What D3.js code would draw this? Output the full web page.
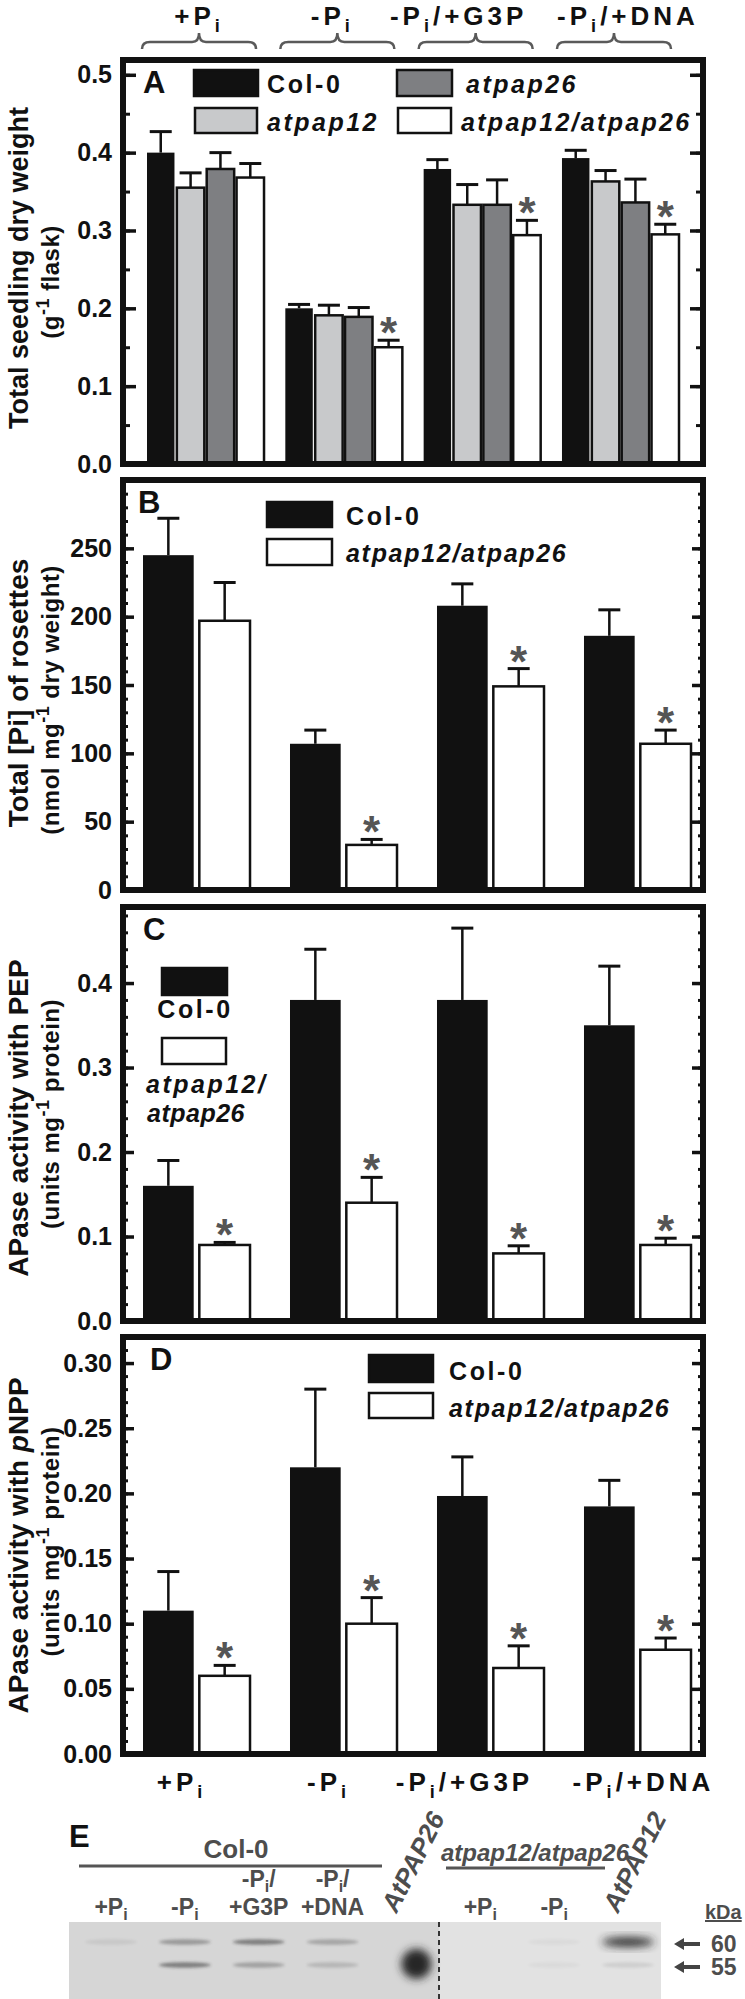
<!DOCTYPE html>
<html>
<head>
<meta charset="utf-8">
<script src="https://cdn.jsdelivr.net/npm/d3@7"></script>
<style>
  body { margin: 0; background: #fff; }
  svg { display: block; }
</style>
</head>
<body>
<svg id="chart" width="745" height="1999"></svg>
<script>
// ---- data ----
const groups = ["+Pi", "-Pi", "-Pi/+G3P", "-Pi/+DNA"];
const genotypesA = ["Col-0", "atpap12", "atpap26", "atpap12/atpap26"];
const genotypesBD = ["Col-0", "atpap12/atpap26"];

// A: total seedling dry weight (g / flask)
const dwCol0 = [0.400, 0.200, 0.379, 0.393];
const dwCol0Err = [0.027, 0.005, 0.012, 0.010];
const dwPap12 = [0.355, 0.191, 0.333, 0.363];
const dwPap12Err = [0.019, 0.013, 0.026, 0.014];
const dwPap26 = [0.379, 0.189, 0.333, 0.336];
const dwPap26Err = [0.021, 0.012, 0.032, 0.030];
const dwDouble = [0.368, 0.150, 0.294, 0.295];
const dwDoubleErr = [0.018, 0.009, 0.019, 0.013];
const dwDoubleSig = [false, true, true, true];

// B: total Pi of rosettes (nmol / mg dry weight)
const piCol0 = [245, 107, 208, 186];
const piCol0Err = [27, 10, 16, 19];
const piDouble = [197, 33, 149, 107];
const piDoubleErr = [28, 4, 13, 10];
const piDoubleSig = [false, true, true, true];

// C: APase activity with PEP (units / mg protein)
const pepCol0 = [0.16, 0.38, 0.38, 0.35];
const pepCol0Err = [0.03, 0.06, 0.085, 0.07];
const pepDouble = [0.09, 0.14, 0.08, 0.09];
const pepDoubleErr = [0.003, 0.03, 0.009, 0.008];
const pepDoubleSig = [true, true, true, true];

// D: APase activity with pNPP (units / mg protein)
const pnppCol0 = [0.11, 0.22, 0.198, 0.19];
const pnppCol0Err = [0.03, 0.06, 0.03, 0.02];
const pnppDouble = [0.06, 0.10, 0.066, 0.08];
const pnppDoubleErr = [0.008, 0.02, 0.017, 0.009];
const pnppDoubleSig = [true, true, true, true];

// tick values
const ticksA = [0, 0.1, 0.2, 0.3, 0.4, 0.5];
const ticksB = [0, 50, 100, 150, 200, 250];
const ticksC = [0, 0.1, 0.2, 0.3, 0.4];
const ticksD = [0, 0.05, 0.10, 0.15, 0.20, 0.25, 0.30];

// E: immunoblot lanes and band strengths (0..1) at the two marker sizes
const lanes = ["+Pi", "-Pi", "-Pi/+G3P", "-Pi/+DNA", "AtPAP26", "+Pi", "-Pi", "AtPAP12"];
const laneStandard = [false, false, false, false, true, false, false, true];
const band60 = [0.08, 0.35, 0.5, 0.28, 0, 0, 0.04, 0.95];
const band55 = [0, 0.5, 0.3, 0.18, 1, 0, 0.04, 0.1];
const markers = [60, 55];

// ---- drawing ----
const SANS = "'Liberation Sans', Arial, Helvetica, sans-serif";
const INK = "#111";
const GREY_TXT = "#4d4d4d";
const fills = { "Col-0": INK, "atpap12": "#c8c9cb", "atpap26": "#7e7f82", "atpap12/atpap26": "#fff" };

// condition labels sit a little off the group centres in the original
const topLabelShift = [0, -5, -17, 14];
const bottomLabelShift = [-15, -15, -26, 6];

const svg = d3.select("#chart").attr("font-family", SANS);
svg.append("rect").attr("width", 745).attr("height", 1999).attr("fill", "#fff");

const frameL = 123, frameR = 703;

// writes "Pi" as P with subscript i
function piText(t, str, subSize, subDy) {
  let pending = 0;
  str.split(/(Pi)/).filter(s => s.length).forEach(p => {
    if (p === "Pi") {
      t.append("tspan").attr("dy", pending || null).text("P");
      t.append("tspan").attr("font-size", subSize).attr("dy", subDy).text("i");
      pending = -subDy;
    } else {
      t.append("tspan").attr("dy", pending || null).text(p);
      pending = 0;
    }
  });
  return t;
}

function drawPanel(cfg) {
  const g = svg.append("g");
  const y = d3.scaleLinear().domain([0, cfg.max]).range([cfg.bottom, cfg.top]);
  const xg = d3.scaleBand().domain(groups).range(cfg.groupRange).paddingInner(cfg.groupPad);
  const xi = d3.scaleBand().domain(cfg.genotypes).range([0, xg.bandwidth()]).paddingInner(cfg.barPad);

  // bars, error bars, asterisks
  cfg.series.forEach(s => {
    const cx = i => xg(groups[i]) + xi(s.key) + xi.bandwidth() / 2;
    const idx = d3.range(s.values.length);
    const eb = g.append("g").attr("stroke", INK);
    eb.selectAll("line.stem").data(idx).join("line").attr("class", "stem")
      .attr("x1", cx).attr("x2", cx)
      .attr("y1", i => y(s.values[i])).attr("y2", i => y(s.values[i] + s.errors[i]))
      .attr("stroke-width", 2.5);
    eb.selectAll("line.cap").data(idx).join("line").attr("class", "cap")
      .attr("x1", i => cx(i) - 11).attr("x2", i => cx(i) + 11)
      .attr("y1", i => y(s.values[i] + s.errors[i])).attr("y2", i => y(s.values[i] + s.errors[i]))
      .attr("stroke-width", 3);
    g.append("g").selectAll("rect").data(idx).join("rect")
      .attr("x", i => xg(groups[i]) + xi(s.key))
      .attr("width", xi.bandwidth())
      .attr("y", i => y(s.values[i]))
      .attr("height", i => y(0) - y(s.values[i]))
      .attr("fill", fills[s.key])
      .attr("stroke", s.key === "Col-0" ? "none" : INK)
      .attr("stroke-width", 2.5);
    if (s.sig) {
      g.append("g").selectAll("text").data(idx.filter(i => s.sig[i])).join("text")
        .attr("x", cx)
        .attr("y", i => y(s.values[i] + s.errors[i]) + 8)
        .attr("text-anchor", "middle")
        .attr("font-size", 44).attr("font-weight", "bold").attr("fill", "#555")
        .text("*");
    }
  });

  // axes: ticks point inward on both sides
  const minor = d3.range(0, cfg.max + 1e-9, cfg.minorStep);
  const strip = a => a.call(s => s.select(".domain").remove());
  const axL = g.append("g").attr("transform", `translate(${frameL},0)`)
    .call(d3.axisLeft(y).tickValues(cfg.ticks).tickSize(-cfg.majorLen).tickPadding(11).tickFormat(d3.format(cfg.fmt)));
  strip(axL);
  axL.selectAll("line").attr("stroke", INK).attr("stroke-width", 3.5);
  axL.selectAll("text").attr("font-size", 25).attr("font-weight", "bold").attr("fill", INK).attr("font-family", SANS);
  [[d3.axisLeft, frameL, minor, cfg.minorLen, 3],
   [d3.axisRight, frameR, cfg.ticks, cfg.majorLen, 3.5],
   [d3.axisRight, frameR, minor, cfg.minorLen, 3]].forEach(([ax, x, vals, len, sw]) => {
    const a = g.append("g").attr("transform", `translate(${x},0)`)
      .call(ax(y).tickValues(vals).tickSize(-len).tickFormat(""));
    strip(a);
    a.selectAll("text").remove();
    a.selectAll("line").attr("stroke", INK).attr("stroke-width", sw);
  });

  // frame
  g.append("rect").attr("x", frameL).attr("y", cfg.top)
    .attr("width", frameR - frameL).attr("height", cfg.bottom - cfg.top)
    .attr("fill", "none").attr("stroke", INK).attr("stroke-width", 6);

  // panel letter
  g.append("text").attr("x", cfg.letterX).attr("y", cfg.top + 33)
    .attr("font-size", 31).attr("font-weight", "bold").attr("fill", INK).text(cfg.letter);

  // y titles
  const mid = (cfg.top + cfg.bottom) / 2;
  const tm = g.append("text").attr("transform", `translate(28,${mid + cfg.mainDy}) rotate(-90)`)
    .attr("text-anchor", "middle").attr("font-size", cfg.mainSize).attr("font-weight", "bold").attr("fill", INK);
  cfg.mainTitle.forEach(p => tm.append("tspan").attr("font-style", p.it ? "italic" : null).text(p.t));
  const ts = g.append("text").attr("transform", `translate(59,${mid + cfg.subDy}) rotate(-90)`)
    .attr("text-anchor", "middle").attr("font-size", 24).attr("font-weight", "bold")
    .attr("letter-spacing", 0.5).attr("fill", INK);
  ts.append("tspan").text(cfg.subTitle[0]);
  ts.append("tspan").attr("font-size", 18).attr("dy", -10).text("-1");
  ts.append("tspan").attr("dy", 10).text(cfg.subTitle[1]);

  // legend
  cfg.legend.forEach(l => {
    g.append("rect").attr("x", l.x).attr("y", l.y).attr("width", l.w).attr("height", l.h)
      .attr("fill", fills[l.key]).attr("stroke", INK).attr("stroke-width", 2.5);
    l.text.forEach(tx => {
      g.append("text").attr("x", tx.x).attr("y", tx.y).attr("font-size", 25)
        .attr("font-weight", "bold").attr("font-style", l.key === "Col-0" ? null : "italic")
        .attr("letter-spacing", tx.ls).attr("text-anchor", tx.anchor || "start")
        .attr("fill", INK).text(tx.s);
    });
  });

  return { xg, y };
}

const groupRangeA = [147, 679];
const groupRangeBD = [143, 691];

const pA = drawPanel({
  top: 60, bottom: 464, max: 0.519, ticks: ticksA, minorStep: 0.05, fmt: ".1f",
  majorLen: 13, minorLen: 7, letter: "A", letterX: 143,
  genotypes: genotypesA, groupRange: groupRangeA, groupPad: 0.154, barPad: 0.08,
  series: [
    { key: "Col-0", values: dwCol0, errors: dwCol0Err },
    { key: "atpap12", values: dwPap12, errors: dwPap12Err },
    { key: "atpap26", values: dwPap26, errors: dwPap26Err },
    { key: "atpap12/atpap26", values: dwDouble, errors: dwDoubleErr, sig: dwDoubleSig }
  ],
  mainTitle: [{ t: "Total seedling dry weight" }], mainDy: 6, mainSize: 27,
  subTitle: ["(g", " flask)"], subDy: 20,
  legend: [
    { key: "Col-0", x: 194, y: 70, w: 64, h: 26, text: [{ x: 267, y: 93, s: "Col-0", ls: 2.6 }] },
    { key: "atpap26", x: 397, y: 70, w: 55, h: 26, text: [{ x: 466, y: 93, s: "atpap26", ls: 2.5 }] },
    { key: "atpap12", x: 195, y: 108, w: 62, h: 25, text: [{ x: 267, y: 131, s: "atpap12", ls: 2.5 }] },
    { key: "atpap12/atpap26", x: 398, y: 108, w: 53, h: 25, text: [{ x: 461, y: 131, s: "atpap12/atpap26", ls: 2.3 }] }
  ]
});

drawPanel({
  top: 480, bottom: 890, max: 300, ticks: ticksB, minorStep: 10, fmt: "d",
  majorLen: 11, minorLen: 5, letter: "B", letterX: 138,
  genotypes: genotypesBD, groupRange: groupRangeBD, groupPad: 0.272, barPad: 0.1,
  series: [
    { key: "Col-0", values: piCol0, errors: piCol0Err },
    { key: "atpap12/atpap26", values: piDouble, errors: piDoubleErr, sig: piDoubleSig }
  ],
  mainTitle: [{ t: "Total [Pi] of rosettes" }], mainDy: 8, mainSize: 28,
  subTitle: ["(nmol mg", " dry weight)"], subDy: 15,
  legend: [
    { key: "Col-0", x: 267, y: 502, w: 65, h: 25, text: [{ x: 346, y: 525, s: "Col-0", ls: 2.6 }] },
    { key: "atpap12/atpap26", x: 267, y: 539, w: 65, h: 26, text: [{ x: 346, y: 562, s: "atpap12/atpap26", ls: 1.7 }] }
  ]
});

drawPanel({
  top: 907, bottom: 1321, max: 0.49, ticks: ticksC, minorStep: 0.02, fmt: ".1f",
  majorLen: 11, minorLen: 5, letter: "C", letterX: 143,
  genotypes: genotypesBD, groupRange: groupRangeBD, groupPad: 0.272, barPad: 0.1,
  series: [
    { key: "Col-0", values: pepCol0, errors: pepCol0Err },
    { key: "atpap12/atpap26", values: pepDouble, errors: pepDoubleErr, sig: pepDoubleSig }
  ],
  mainTitle: [{ t: "APase activity with PEP" }], mainDy: 4, mainSize: 28,
  subTitle: ["(units mg", " protein)"], subDy: 0,
  legend: [
    { key: "Col-0", x: 162, y: 968, w: 65, h: 27, text: [{ x: 195, y: 1018, s: "Col-0", ls: 2.6, anchor: "middle" }] },
    { key: "atpap12/atpap26", x: 162, y: 1038, w: 64, h: 26,
      text: [{ x: 146, y: 1093, s: "atpap12/", ls: 2.5 }, { x: 147, y: 1122, s: "atpap26", ls: 0.5 }] }
  ]
});

const pD = drawPanel({
  top: 1337, bottom: 1754, max: 0.32, ticks: ticksD, minorStep: 0.01, fmt: ".2f",
  majorLen: 11, minorLen: 5, letter: "D", letterX: 150,
  genotypes: genotypesBD, groupRange: groupRangeBD, groupPad: 0.272, barPad: 0.1,
  series: [
    { key: "Col-0", values: pnppCol0, errors: pnppCol0Err },
    { key: "atpap12/atpap26", values: pnppDouble, errors: pnppDoubleErr, sig: pnppDoubleSig }
  ],
  mainTitle: [{ t: "APase activity with " }, { t: "p", it: true }, { t: "NPP" }], mainDy: 0, mainSize: 28,
  subTitle: ["(units mg", " protein)"], subDy: -4,
  legend: [
    { key: "Col-0", x: 369, y: 1355, w: 64, h: 27, text: [{ x: 449, y: 1380, s: "Col-0", ls: 2.6 }] },
    { key: "atpap12/atpap26", x: 369, y: 1393, w: 64, h: 25, text: [{ x: 449, y: 1417, s: "atpap12/atpap26", ls: 1.7 }] }
  ]
});

// top condition labels with braces over panel A groups
const braceG = svg.append("g");
groups.forEach((gname, k) => {
  const x0 = pA.xg(gname) - 5, x1 = pA.xg(gname) + pA.xg.bandwidth() - 8, cx = (x0 + x1) / 2;
  braceG.append("path")
    .attr("d", `M${x0},49 Q${x0},42 ${x0 + 8},42 L${cx - 7},42 Q${cx},42 ${cx},33 Q${cx},42 ${cx + 7},42 L${x1 - 8},42 Q${x1},42 ${x1},49`)
    .attr("fill", "none").attr("stroke", "#5a5a5a").attr("stroke-width", 2.5);
  const t = braceG.append("text").attr("x", cx + topLabelShift[k]).attr("y", 25).attr("text-anchor", "middle")
    .attr("font-size", 26).attr("font-weight", "bold").attr("letter-spacing", 4).attr("fill", INK);
  piText(t, gname, 18, 7);
});

// bottom condition labels under panel D
groups.forEach((gname, k) => {
  const cx = pD.xg(gname) + pD.xg.bandwidth() / 2 + bottomLabelShift[k];
  const t = svg.append("text").attr("x", cx).attr("y", 1791).attr("text-anchor", "middle")
    .attr("font-size", 26).attr("font-weight", "bold").attr("letter-spacing", 4).attr("fill", INK);
  piText(t, gname, 18, 7);
});

// ---- panel E: immunoblot ----
const E = svg.append("g");
const defs = svg.append("defs");
defs.append("filter").attr("id", "blur").attr("x", "-50%").attr("y", "-150%").attr("width", "200%").attr("height", "400%")
  .append("feGaussianBlur").attr("stdDeviation", 1.8);
defs.append("filter").attr("id", "blur2").attr("x", "-60%").attr("y", "-60%").attr("width", "220%").attr("height", "220%")
  .append("feGaussianBlur").attr("stdDeviation", 4);

const xl = d3.scalePoint().domain(d3.range(lanes.length)).range([111, 628]);
const yk = d3.scaleLinear().domain([55, 60]).range([1965, 1942]);
const blotTop = 1922, blotL = 69, blotR = 661, splitX = 439;

E.append("text").attr("x", 69).attr("y", 1847).attr("font-size", 31).attr("font-weight", "bold").attr("fill", INK).text("E");
E.append("text").attr("x", 236).attr("y", 1858).attr("text-anchor", "middle").attr("font-size", 26)
  .attr("font-weight", "bold").attr("fill", GREY_TXT).text("Col-0");
E.append("line").attr("x1", 79).attr("x2", 382).attr("y1", 1866).attr("y2", 1866).attr("stroke", "#555").attr("stroke-width", 3);
E.append("text").attr("x", 535).attr("y", 1861).attr("text-anchor", "middle").attr("font-size", 24)
  .attr("font-weight", "bold").attr("font-style", "italic").attr("fill", GREY_TXT).text("atpap12/atpap26");
E.append("line").attr("x1", 446).attr("x2", 605).attr("y1", 1868).attr("y2", 1868).attr("stroke", "#555").attr("stroke-width", 3);

lanes.forEach((ln, i) => {
  const x = xl(i);
  if (laneStandard[i]) {
    E.append("text").attr("transform", `translate(${x - 10},${1914}) rotate(-63)`)
      .attr("font-size", 26).attr("font-weight", "bold").attr("font-style", "italic")
      .attr("fill", GREY_TXT).text(ln);
  } else {
    const lines = ln.includes("/") ? [ln.split("/")[0] + "/", ln.split("/")[1]] : [ln];
    lines.forEach((s, k) => {
      const t = E.append("text").attr("x", x).attr("y", 1915 - (lines.length - 1 - k) * 28)
        .attr("text-anchor", "middle").attr("font-size", 23).attr("font-weight", "bold").attr("fill", GREY_TXT);
      piText(t, s, 16, 5);
    });
  }
});

// blot membrane
E.append("rect").attr("x", blotL).attr("y", blotTop).attr("width", splitX - blotL).attr("height", 1999 - blotTop).attr("fill", "#d6d6d6");
E.append("rect").attr("x", splitX).attr("y", blotTop).attr("width", blotR - splitX).attr("height", 1999 - blotTop).attr("fill", "#e2e2e2");
const bands = E.append("g");
lanes.forEach((ln, i) => {
  [[60, band60[i]], [55, band55[i]]].forEach(([kda, a]) => {
    if (!a) return;
    const blob = laneStandard[i] && a > 0.9;
    const round = blob && kda === 55;
    bands.append("ellipse")
      .attr("cx", xl(i) + (round ? 10 : 0))
      .attr("cy", yk(kda) + (round ? -1 : 0))
      .attr("rx", round ? 15 : 26)
      .attr("ry", round ? 15 : (blob ? 5 : 2.8))
      .attr("fill", "#262626").attr("opacity", a)
      .attr("filter", blob ? "url(#blur2)" : "url(#blur)");
  });
});
E.append("line").attr("x1", splitX).attr("x2", splitX).attr("y1", blotTop).attr("y2", 1999)
  .attr("stroke", "#333").attr("stroke-width", 2).attr("stroke-dasharray", "5,4");

// size markers
E.append("text").attr("x", 705).attr("y", 1919).attr("font-size", 20).attr("font-weight", "bold")
  .attr("fill", GREY_TXT).attr("text-decoration", "underline").text("kDa");
markers.forEach(m => {
  const yy = yk(m) + 2;
  E.append("path").attr("d", `M674,${yy} L684,${yy - 6} L684,${yy - 2} L700,${yy - 2} L700,${yy + 2} L684,${yy + 2} L684,${yy + 6} Z`)
    .attr("fill", "#444");
  E.append("text").attr("x", 711).attr("y", yy + 8).attr("font-size", 23).attr("font-weight", "bold")
    .attr("fill", GREY_TXT).text(m);
});
</script>
</body>
</html>
